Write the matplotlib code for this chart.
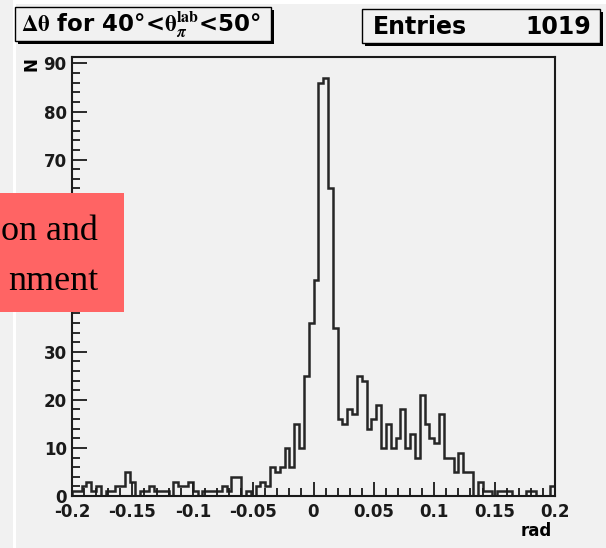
import numpy as np
import matplotlib
matplotlib.use("Agg")
import matplotlib.pyplot as plt
from matplotlib.patches import Rectangle
from matplotlib.ticker import MultipleLocator, FixedLocator

# ---- data ----
bin_lo = -0.2
bin_hi = 0.2
n_bins = 100
counts = [1, 1, 2, 3, 1, 2, 0, 1, 1, 2,
          2, 5, 3, 0, 1, 1, 2, 1, 1, 1,
          0, 3, 2, 2, 3, 1, 0, 1, 1, 1,
          1, 2, 1, 4, 4, 0, 1, 0, 2, 3,
          2, 6, 5, 6, 10, 6, 15, 10, 25, 36,
          45, 86, 87, 64, 35, 16, 15, 18, 17, 25,
          24, 14, 16, 19, 10, 15, 10, 12, 18, 10,
          13, 8, 21, 15, 12, 11, 17, 8, 8, 5,
          9, 5, 5, 0, 3, 1, 1, 0, 1, 1,
          1, 0, 0, 0, 1, 1, 0, 0, 0, 2]
x_ticks = [-0.2, -0.15, -0.1, -0.05, 0, 0.05, 0.1, 0.15, 0.2]
x_tick_labels = ["-0.2", "-0.15", "-0.1", "-0.05", "0", "0.05", "0.1", "0.15", "0.2"]
y_ticks = [0, 10, 20, 30, 40, 50, 60, 70, 80, 90]
entries = 1019
title_text = r"$\mathrm{\Delta\theta}$ for 40°<$\mathrm{\theta}_{\pi}^{\mathbf{lab}}$<50°"
overlay_lines = ["on and", "nment"]

W, H = 606, 548
plt.rcParams['font.family'] = ['DejaVu Sans']
plt.rcParams['font.weight'] = 'bold'
plt.rcParams['mathtext.fontset'] = 'stix'

bg = '#f1f1f1'
fig = plt.figure(figsize=(W / 100, H / 100), dpi=100, facecolor=bg)

def fx(x):
    return x / W

def fy(y):
    return 1 - y / H

# white strips of the screenshot
fig.add_artist(Rectangle((fx(13), 0), fx(3), 1, transform=fig.transFigure,
                         facecolor='white', edgecolor='none', zorder=0))
fig.add_artist(Rectangle((fx(13), fy(4)), 1, fy(0) - fy(4), transform=fig.transFigure,
                         facecolor='white', edgecolor='none', zorder=0))

ax_l, ax_r, ax_t, ax_b = 72, 555, 57, 496
ax = fig.add_axes([fx(ax_l), fy(ax_b), fx(ax_r) - fx(ax_l), fy(ax_t) - fy(ax_b)])
ax.set_facecolor(bg)

edges = np.linspace(bin_lo, bin_hi, n_bins + 1)
ax.stairs(counts, edges, color='#262626', linewidth=1.8, baseline=0)

ax.set_xlim(bin_lo, bin_hi)
ax.set_ylim(0, max(counts) * 1.05)

for s in ax.spines.values():
    s.set_color('#1a1a1a')
    s.set_linewidth(1.5)

ax.xaxis.set_major_locator(FixedLocator(x_ticks))
ax.set_xticklabels(x_tick_labels)
ax.xaxis.set_minor_locator(MultipleLocator(0.01))
ax.yaxis.set_major_locator(FixedLocator(y_ticks))
ax.yaxis.set_minor_locator(MultipleLocator(2))

ax.tick_params(which='both', direction='in', top=False, right=False, colors='#1a1a1a',
               width=1.3, labelsize=12)
ax.tick_params(axis='y', which='major', length=11, pad=3.8)
ax.tick_params(axis='y', which='minor', length=6)
ax.tick_params(axis='x', which='major', length=10, pad=5)
ax.tick_params(axis='x', which='minor', length=5.5)
for lab in ax.get_xticklabels() + ax.get_yticklabels():
    lab.set_fontweight('bold')

# axis titles
fig.text(fx(552), fy(531), "rad", ha='right', va='center', fontsize=12, fontweight='bold')
fig.text(fx(32), fy(64), "N", ha='center', va='center', fontsize=12, fontweight='bold',
         rotation=90)

# title box with shadow
def shadow_box(x0, y0, x1, y1, off=3):
    fig.add_artist(Rectangle((fx(x0 + off), fy(y1 + off)), fx(x1 - x0), fy(y0) - fy(y1),
                             transform=fig.transFigure, facecolor='black', edgecolor='none',
                             zorder=5))
    fig.add_artist(Rectangle((fx(x0), fy(y1)), fx(x1 - x0), fy(y0) - fy(y1),
                             transform=fig.transFigure, facecolor=bg, edgecolor='black',
                             linewidth=1.0, zorder=6))

shadow_box(15, 7, 271, 41)
fig.text(fx(21), fy(25), title_text, ha='left', va='center', fontsize=16.5,
         fontweight='bold', zorder=7)

shadow_box(362, 9, 600, 43)
fig.text(fx(373), fy(27), "Entries", ha='left', va='center', fontsize=17,
         fontweight='bold', zorder=7)
fig.text(fx(591), fy(27), str(entries), ha='right', va='center', fontsize=17,
         fontweight='bold', zorder=7)

# red overlay box
fig.add_artist(Rectangle((0, fy(312)), fx(124), fy(193) - fy(312), transform=fig.transFigure,
                         facecolor='#ff6464', edgecolor='none', zorder=10))
fig.text(fx(98), fy(231), overlay_lines[0], ha='right', va='center', fontsize=26,
         family='Liberation Serif', fontweight='normal', zorder=11)
fig.text(fx(98), fy(282), overlay_lines[1], ha='right', va='center', fontsize=26,
         family='Liberation Serif', fontweight='normal', zorder=11)

fig.savefig("out.png", dpi=100, facecolor=bg)
